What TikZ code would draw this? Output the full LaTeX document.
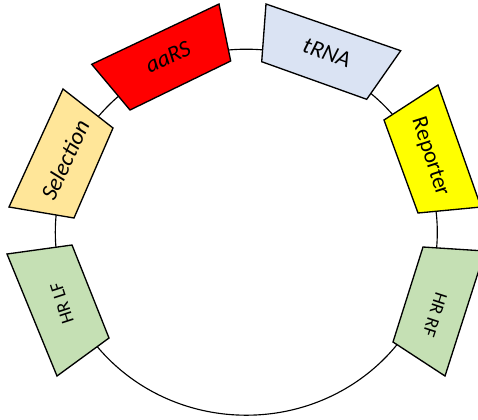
\documentclass[tikz,border=0pt]{standalone}
\usepackage{fontspec}
\setmainfont{Carlito}
\definecolor{aarscol}{HTML}{FF0000}
\definecolor{trnacol}{HTML}{DAE3F3}
\definecolor{repcol}{HTML}{FFFF00}
\definecolor{selcol}{HTML}{FFE699}
\definecolor{hrcol}{HTML}{C5E0B4}
\begin{document}
\begin{tikzpicture}[x=0.75pt,y=-0.75pt,
  block/.style={draw=black,line width=1pt,line join=miter},
  lblit/.style={font=\fontsize{17.5}{20}\selectfont\itshape,inner sep=0pt},
  lblup/.style={font=\fontsize{17}{20}\selectfont,inner sep=0pt},
  lblhr/.style={font=\fontsize{14}{16}\selectfont,inner sep=0pt}]
\useasboundingbox (0,0) rectangle (478,419);
\clip (0,0) rectangle (478,419);
\draw[line width=0.85pt] (246.3,232.2) ellipse [x radius=191, y radius=183];
% blocks
\filldraw[block,fill=aarscol] (91.7,64.3) -- (219,4) -- (230.7,61) -- (130,110) -- cycle;
\filldraw[block,fill=trnacol] (266,4) -- (400.7,50.7) -- (366.7,99.3) -- (261.7,61.7) -- cycle;
\filldraw[block,fill=repcol] (438,85) -- (481,207) -- (418,213) -- (384,120) -- cycle;
\filldraw[block,fill=selcol] (63,89) -- (113,128) -- (74,218) -- (9,207) -- cycle;
\filldraw[block,fill=hrcol] (7,254) -- (72,245) -- (109,338) -- (57,376) -- cycle;
\filldraw[block,fill=hrcol] (423,247) -- (485,251) -- (445,376) -- (393,342) -- cycle;
% labels
\node[lblit,rotate=25] (aars) at (168,57) {aaRS};
\node[lblit,rotate=-19.5] (trna) at (327,53) {tRNA};
\node[lblup,rotate=-72] (rep) at (430,157) {Reporter};
\node[lblit,rotate=65] (sel) at (65,160) {Selection};
\node[lblhr,rotate=108] (hrlf) at (62,303) {HR LF};
\node[lblhr,rotate=-108] (hrrf) at (435,315) {HR RF};
\end{tikzpicture}
\end{document}
